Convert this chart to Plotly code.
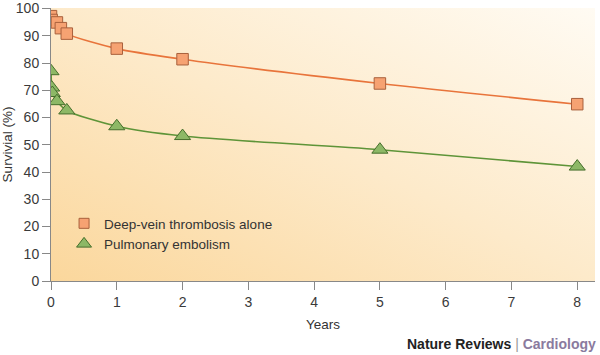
import base64
import plotly.graph_objects as go

# Data
dvt_years = [0.0, 0.01, 0.09, 0.15, 0.24, 1, 2, 5, 8]
dvt_surv = [97.2, 95.8, 94.9, 92.8, 90.8, 85.3, 81.4, 72.5, 64.9]
pe_years = [0.0, 0.01, 0.02, 0.09, 0.24, 1, 2, 5, 8]
pe_surv = [77.0, 71.0, 69.0, 66.0, 62.6, 56.8, 53.2, 48.2, 42.0]
x_ticks = [0, 1, 2, 3, 4, 5, 6, 7, 8]
y_ticks = [0, 10, 20, 30, 40, 50, 60, 70, 80, 90, 100]
names = ["Deep-vein thrombosis alone", "Pulmonary embolism"]

svg = ('<svg xmlns="http://www.w3.org/2000/svg" width="600" height="300" preserveAspectRatio="none">'
       '<defs><linearGradient id="g" x1="0" y1="1" x2="1" y2="0">'
       '<stop offset="0" stop-color="#FBD79C"/>'
       '<stop offset="0.5" stop-color="#FDEACA"/>'
       '<stop offset="1" stop-color="#FFFBF3"/>'
       '</linearGradient></defs>'
       '<rect width="600" height="300" fill="url(#g)"/></svg>')
src = "data:image/svg+xml;base64," + base64.b64encode(svg.encode()).decode()

sq_marker = dict(symbol="square", size=11.5, color="#F6A272", line=dict(color="#A8603C", width=1))
tri_marker = dict(symbol="triangle-up", size=14, color="#8DB866", line=dict(color="#466E2C", width=1))

fig = go.Figure()
fig.add_trace(go.Scatter(
    x=dvt_years, y=dvt_surv, mode="lines+markers", name=names[0], showlegend=False,
    line=dict(color="#E8743B", width=1.6, shape="spline", smoothing=0.8), marker=sq_marker,
))
fig.add_trace(go.Scatter(
    x=pe_years, y=pe_surv, mode="lines+markers", name=names[1], showlegend=False,
    line=dict(color="#5E9438", width=1.6, shape="spline", smoothing=0.8), marker=tri_marker,
))
# legend entries (markers only)
fig.add_trace(go.Scatter(x=[None], y=[None], mode="markers", name=names[0],
                         marker=dict(sq_marker, size=10)))
fig.add_trace(go.Scatter(x=[None], y=[None], mode="markers", name=names[1],
                         marker=dict(tri_marker, size=13)))

font = "Liberation Sans, Arial, sans-serif"
fig.update_layout(
    width=600, height=355,
    margin=dict(l=51, r=5, t=7.5, b=74),
    paper_bgcolor="white", plot_bgcolor="rgba(0,0,0,0)",
    font=dict(family=font, size=14, color="#333333"),
    showlegend=True,
    legend=dict(x=0.024, y=0.172, xanchor="left", yanchor="middle",
                bgcolor="rgba(0,0,0,0)", font=dict(size=13.5, color="#333"),
                tracegroupgap=0, itemsizing="trace"),
    images=[dict(source=src, xref="paper", yref="paper", x=0, y=1, sizex=1, sizey=1,
                 sizing="stretch", layer="below", xanchor="left", yanchor="top")],
    xaxis=dict(range=[0, 8.27], tickvals=x_ticks, ticks="outside", ticklen=8,
               tickcolor="#888", showline=True, linecolor="#888", linewidth=1,
               showgrid=False, zeroline=False, automargin=False,
               title=dict(text="Years", font=dict(size=13.5), standoff=10),
               tickfont=dict(size=14, color="#3a3a3a")),
    yaxis=dict(range=[0, 100.2], tickvals=y_ticks, ticks="outside", ticklen=8,
               tickcolor="#888", showline=True, linecolor="#888", linewidth=1,
               showgrid=False, zeroline=False, automargin=False,
               title=dict(text="Survivial (%)", font=dict(size=13.5), standoff=3),
               tickfont=dict(size=14, color="#3a3a3a")),
    annotations=[dict(
        text="<b>Nature Reviews</b> <span style='color:#999'>|</span> <span style='color:#8A7A9E;font-weight:bold'><b>Cardiology</b></span>",
        xref="paper", yref="paper", x=1.006, y=-0.232, xanchor="right", yanchor="middle",
        showarrow=False, font=dict(size=14, color="#222", family="Liberation Sans Narrow, Liberation Sans, Arial"))],
)
fig.write_html("out.html", config={"displayModeBar": False},
               post_script="document.body.style.margin='0';document.body.style.padding='0';")
